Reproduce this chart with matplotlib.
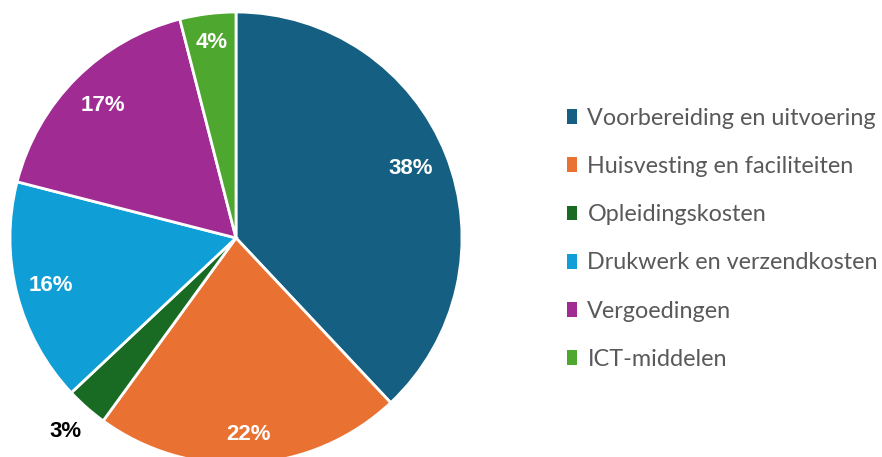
import matplotlib
matplotlib.use("Agg")
import matplotlib.pyplot as plt
import numpy as np

categories = ["Voorbereiding en uitvoering", "Huisvesting en faciliteiten", "Opleidingskosten",
              "Drukwerk en verzendkosten", "Vergoedingen", "ICT-middelen"]
values = [38, 22, 3, 16, 17, 4]
colors = ["#156082", "#E97132", "#196B24", "#0F9ED5", "#A02B93", "#4EA72E"]
label_radius = [0.83, 0.87, 1.14, 0.845, 0.83, 0.87]
label_colors = ["white", "white", "black", "white", "white", "white"]

W, H = 882, 457
fig = plt.figure(figsize=(W / 100, H / 100), dpi=100)
R = 226
cx, cy = 236, H - 238
ax = fig.add_axes([(cx - R) / W, (cy - R) / H, 2 * R / W, 2 * R / H])
wedges, texts = ax.pie(values, colors=colors, startangle=90, counterclock=False,
                       wedgeprops=dict(edgecolor="white", linewidth=2))
ax.set_xlim(-1, 1)
ax.set_ylim(-1, 1)
ax.set_aspect("equal")
ax.axis("off")

cum = np.cumsum([0] + values[:-1])
for i, v in enumerate(values):
    mid = 90 - (cum[i] + v / 2) / 100 * 360
    r = label_radius[i]
    ax.text(r * np.cos(np.radians(mid)), r * np.sin(np.radians(mid)), f"{v}%",
            ha="center", va="center", fontsize=16, fontweight="bold", color=label_colors[i],
            family="Liberation Sans", clip_on=False)

fs = 16.8
leg = fig.legend(wedges, categories, loc="upper left", bbox_to_anchor=(558 / W, 1 - 98.5 / H),
                 frameon=False, handlelength=0.43, handleheight=0.6,
                 handletextpad=0.43, labelspacing=1.165, borderaxespad=0,
                 prop=dict(family="Lato", size=fs))
for t in leg.get_texts():
    t.set_color("#595959")
for h in leg.legend_handles:
    h.set_edgecolor("none")

fig.savefig("out.png", dpi=100)
